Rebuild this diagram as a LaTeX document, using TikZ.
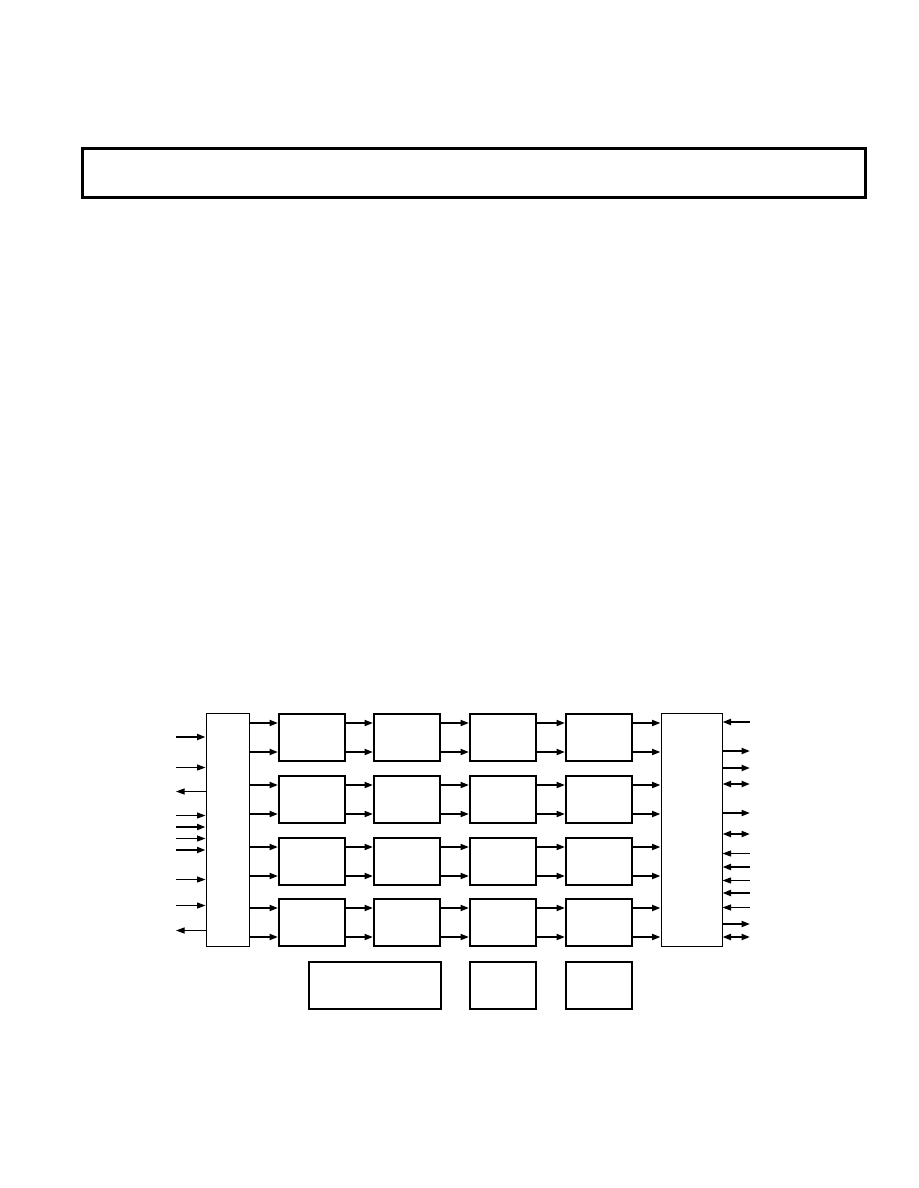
\documentclass[tikz,border=0pt]{standalone}
\usepackage{tikz}
\usetikzlibrary{arrows.meta,calc,positioning}
\tikzstyle{block} = [draw, line width=2pt, minimum width=66pt, minimum height=47pt, inner sep=0pt, anchor=north west]
\tikzstyle{bus} = [draw, line width=1pt, minimum height=233pt, inner sep=0pt, anchor=north west]
\tikzstyle{connector} = [line width=2pt]
\tikzstyle{wire} = [line width=1pt]

\begin{document}
\begin{tikzpicture}[x=1pt, y=-1pt, >={Triangle[length=8.5pt,width=6pt]}]
    \useasboundingbox (0,0) rectangle (918,1188);

    % heading frame
    \node (title) [draw, line width=3pt, minimum width=783pt, minimum height=49pt, inner sep=0pt, anchor=north west] at (80.5,146.5) {};

    % side boxes
    \node (L) [bus, minimum width=43pt] at (205.5,712.5) {};
    \node (R) [bus, minimum width=61pt] at (660.5,712.5) {};

    % 4x4 blocks
    \foreach \r/\y in {1/713,2/775,3/837,4/898}
        \foreach \c/\x in {1/278,2/373,3/469,4/565}
            \node (b\r\c) [block] at (\x,\y) {};

    % lower blocks
    \node (s1) [block, minimum width=132pt] at (308,961) {};
    \node (s2) [block] at (469,961) {};
    \node (s3) [block] at (565,961) {};

    \foreach \r in {1,...,4} {
        \foreach \c/\n in {1/2,2/3,3/4} {
            \draw [connector, ->] ([yshift=14.5pt]b\r\c.east) -- ([yshift=14.5pt]b\r\n.west);
            \draw [connector, ->] ([yshift=-14.5pt]b\r\c.east) -- ([yshift=-14.5pt]b\r\n.west);
        }
        \draw [connector, ->] ([yshift=14.5pt]b\r1.west -| L.east) -- ([yshift=14.5pt]b\r1.west);
        \draw [connector, ->] ([yshift=-14.5pt]b\r1.west -| L.east) -- ([yshift=-14.5pt]b\r1.west);
        \draw [connector, ->] ([yshift=14.5pt]b\r4.east) -- ([yshift=14.5pt]b\r4.east -| R.west);
        \draw [connector, ->] ([yshift=-14.5pt]b\r4.east) -- ([yshift=-14.5pt]b\r4.east -| R.west);
    }

    % left side lines
    \foreach \y/\s/\d [count=\i] in {737/connector/->, 767.5/wire/->, 791.5/wire/<-, 815.5/wire/->, 827/connector/->,
                          838.5/wire/->, 850/connector/->, 879.5/wire/->, 905.5/wire/->, 930.5/wire/<-} {
        \coordinate (l\i) at (176,\y);
        \draw [\s, \d] (l\i) -- (l\i -| L.west);
    }

    % right side lines
    \foreach \y/\s/\d [count=\i] in {722/connector/<-, 751/connector/->, 768/connector/->, 784/connector/<->,
                          813/connector/->, 834/connector/<->, 853.5/wire/<-, 867/connector/<-,
                          880.5/wire/<-, 893/connector/<-, 907.5/wire/<-, 924/connector/->, 937/connector/<->} {
        \coordinate (r\i) at (750,\y);
        \draw [\s, \d] (r\i -| R.east) -- (r\i);
    }
\end{tikzpicture}
\end{document}
